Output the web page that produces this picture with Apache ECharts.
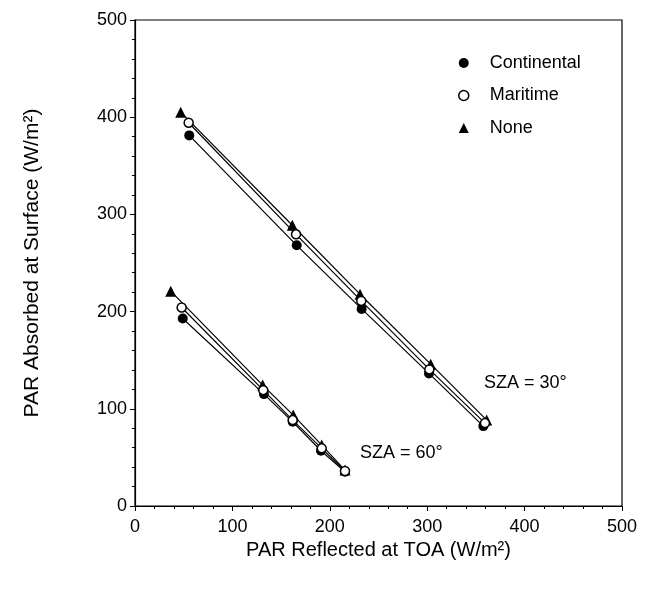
<!DOCTYPE html>
<html>
<head>
<meta charset="utf-8">
<script src="https://cdn.jsdelivr.net/npm/echarts@6/dist/echarts.min.js"></script>
<style>html,body{margin:0;padding:0;background:#fff;}#c{width:656px;height:589px;}</style>
</head>
<body>
<div id="c"></div>
<script>
// SZA = 30 deg group
const cont30 = [[55.7,381.3],[166,268.2],[232.7,202.8],[301.8,136.4],[357.6,82.2]];
const mari30 = [[55.1,394.3],[165.3,279.5],[232.3,211],[302.2,140.5],[359.3,85.3]];
const none30 = [[46.9,405.2],[161.5,288.8],[231,217.9],[303.6,145.9],[361.1,88.4]];
// SZA = 60 deg group
const cont60 = [[49,192.9],[132.4,115.1],[161.9,86.6],[191,56.8],[215.6,35.3]];
const mari60 = [[47.9,204.2],[131.7,119.2],[161.9,88.4],[191.7,59.3],[215.6,36]];
const none60 = [[36.7,221],[131.1,124.4],[162.5,93.5],[191.7,62.7],[215.6,37]];

const seriesNames = ['Continental','Maritime','None'];
const xTitle = 'PAR Reflected at TOA (W/m²)';
const yTitle = 'PAR Absorbed at Surface (W/m²)';
const annoText = ['SZA = 30°','SZA = 60°'];
const annoAt = [[358.3,126.4],[231,54.5]];

const font = 'Liberation Sans, Arial, sans-serif';
function mk(name, data, kind, z){
  const base = {name, type:'line', data, lineStyle:{color:'#000',width:1.2}, z:z, showSymbol:true, animation:false};
  if(kind==='cont'){ base.symbol='circle'; base.symbolSize=10; base.itemStyle={color:'#000',borderColor:'#000',borderWidth:0}; }
  if(kind==='mari'){ base.symbol='circle'; base.symbolSize=9; base.itemStyle={color:'#fff',borderColor:'#000',borderWidth:1.5}; }
  if(kind==='none'){ base.symbol='triangle'; base.symbolSize=11; base.itemStyle={color:'#000',borderColor:'#000',borderWidth:0}; }
  return base;
}
const chart = echarts.init(document.getElementById('c'), null, {renderer:'canvas'});
const series = [
  mk(seriesNames[0], cont30, 'cont', 3), mk(seriesNames[1], mari30, 'mari', 4), mk(seriesNames[2], none30, 'none', 2),
  mk(seriesNames[0], cont60, 'cont', 3), mk(seriesNames[1], mari60, 'mari', 4), mk(seriesNames[2], none60, 'none', 2)
];
chart.setOption({
  animation:false,
  backgroundColor:'#fff',
  grid:{left:135,right:34,top:20,bottom:83, show:true, borderColor:'#000', borderWidth:1.2, backgroundColor:'transparent'},
  legend:{
    data:[
      {name:'Continental',icon:'circle',itemStyle:{color:'#000',borderWidth:0}},
      {name:'Maritime',icon:'circle',itemStyle:{color:'#fff',borderColor:'#000',borderWidth:1.5}},
      {name:'None',icon:'triangle',itemStyle:{color:'#000',borderWidth:0}}
    ],
    orient:'vertical', left:453, top:49, itemGap:14.5, itemWidth:10, itemHeight:10,
    textStyle:{fontFamily:font, fontSize:18, color:'#000', padding:[0,0,0,16]},
    selectedMode:false
  },
  xAxis:{
    type:'value', min:0, max:500, interval:100,
    name:xTitle, nameLocation:'middle', nameGap:34,
    nameTextStyle:{fontFamily:font, fontSize:20, color:'#000'},
    axisLine:{show:true, lineStyle:{color:'#000',width:1.2}},
    axisTick:{show:true, inside:false, length:5, lineStyle:{color:'#000'}},
    minorTick:{show:true, splitNumber:5, length:3, lineStyle:{color:'#000'}},
    splitLine:{show:false},
    axisLabel:{fontFamily:font, fontSize:18, color:'#000', margin:12}
  },
  yAxis:{
    type:'value', min:0, max:500, interval:100,
    name:yTitle, nameLocation:'middle', nameGap:92, nameRotate:90,
    nameTextStyle:{fontFamily:font, fontSize:21, color:'#000'},
    axisLine:{show:true, lineStyle:{color:'#000',width:1.2}},
    axisTick:{show:true, inside:false, length:5, lineStyle:{color:'#000'}},
    minorTick:{show:true, splitNumber:5, length:3, lineStyle:{color:'#000'}},
    splitLine:{show:false},
    axisLabel:{fontFamily:font, fontSize:18, color:'#000', margin:8}
  },
  series: series
});
const g = annoText.map((t,i)=>{
  const p = chart.convertToPixel({gridIndex:0}, annoAt[i]);
  return {type:'text', x:p[0], y:p[1], style:{text:t, font:'18px '+font, fill:'#000', verticalAlign:'middle', align:'left'}};
});
chart.setOption({graphic:g});
</script>
</body>
</html>
